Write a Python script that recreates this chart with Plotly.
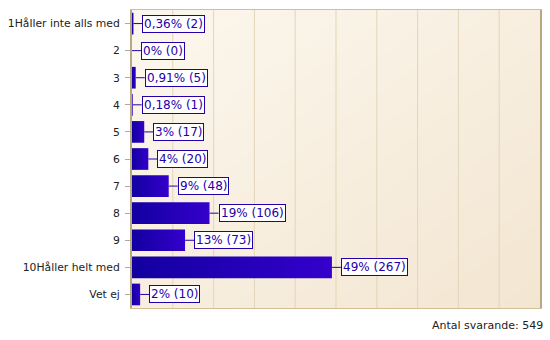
import plotly.graph_objects as go

# Survey answers: share of respondents per answer option
categories = ["1Håller inte alls med", "2", "3", "4", "5", "6", "7", "8", "9",
              "10Håller helt med", "Vet ej"]
percent = [0.36, 0, 0.91, 0.18, 3, 4, 9, 19, 13, 49, 2]
counts = [2, 0, 5, 1, 17, 20, 48, 106, 73, 267, 10]
total_respondents = 549

x_max = 100
grid_values = [10, 20, 30, 40, 50, 60, 70, 80, 90]
half_bar = 0.4

BAR_DARK = "#1200a0"
BAR_LIGHT = "#3500cc"
LABEL_BLUE = "#2200aa"
FRAME = "#d2bf98"


def pct_text(p):
    if float(p).is_integer():
        return f"{int(p)}%"
    return f"{p:.2f}%".replace(".", ",")


fig = go.Figure()

n = len(categories)
y_lo, y_hi = -0.5, n - 0.5

# soft diagonal cream background
fig.add_trace(go.Heatmap(
    x=[0, x_max], y=[y_lo, y_hi],
    z=[[0.0, 0.5], [0.5, 1.0]],
    zsmooth="best", showscale=False, hoverinfo="skip",
    colorscale=[[0, "#fcf7ee"], [1, "#f3e6d1"]],
))

# vertical grid lines, kept above the background and below the bars
gx, gy = [], []
for g in grid_values:
    gx += [g, g, None]
    gy += [y_lo, y_hi, None]
fig.add_trace(go.Scatter(x=gx, y=gy, mode="lines", hoverinfo="skip",
                         line=dict(color="#e3d5b8", width=1), showlegend=False))

# bars with a left-to-right gradient
for i, (p, c) in enumerate(zip(percent, counts)):
    if p > 0:
        fig.add_trace(go.Scatter(
            x=[0, p, p, 0, 0],
            y=[i - half_bar, i - half_bar, i + half_bar, i + half_bar, i - half_bar],
            mode="lines", fill="toself",
            line=dict(width=0, color=BAR_DARK),
            fillgradient=dict(type="horizontal", start=0, stop=p,
                              colorscale=[[0, BAR_DARK], [1, BAR_LIGHT]]),
            showlegend=False, hoverinfo="skip",
        ))
    fig.add_annotation(
        x=p, y=i, xref="x", yref="y",
        text=f"{pct_text(p)} ({c})",
        showarrow=True, arrowhead=0, arrowwidth=1, arrowcolor=LABEL_BLUE,
        ax=9, ay=0, xanchor="left", yanchor="middle",
        bgcolor="white", bordercolor=LABEL_BLUE, borderwidth=1, borderpad=1,
        font=dict(family="DejaVu Sans", size=12, color=LABEL_BLUE),
    )

fig.add_annotation(
    x=1, y=0, xref="paper", yref="paper", xanchor="right", yanchor="top",
    yshift=-9, xshift=5,
    text=f"Antal svarande: {total_respondents}", showarrow=False,
    font=dict(family="DejaVu Sans", size=11, color="#222222"),
)

fig.update_xaxes(range=[0, x_max], showgrid=False, zeroline=False,
                 showticklabels=False, showline=True, mirror=True,
                 linecolor=FRAME, linewidth=1, automargin=False)
fig.update_yaxes(range=[y_hi, y_lo], tickmode="array",
                 tickvals=list(range(n)), ticktext=categories,
                 showgrid=False, zeroline=False, automargin=False,
                 ticks="outside", ticklen=5, tickcolor="#aaaaaa",
                 ticklabelstandoff=3,
                 showline=True, mirror=True, linecolor="#b8a882", linewidth=2,
                 tickfont=dict(family="DejaVu Sans", size=10.8, color="#222222"))

fig.update_layout(
    width=550, height=340,
    margin=dict(l=132, r=10, t=10, b=32),
    paper_bgcolor="white", plot_bgcolor="#f8efe0",
    showlegend=False,
)

fig.write_html("out.html")
